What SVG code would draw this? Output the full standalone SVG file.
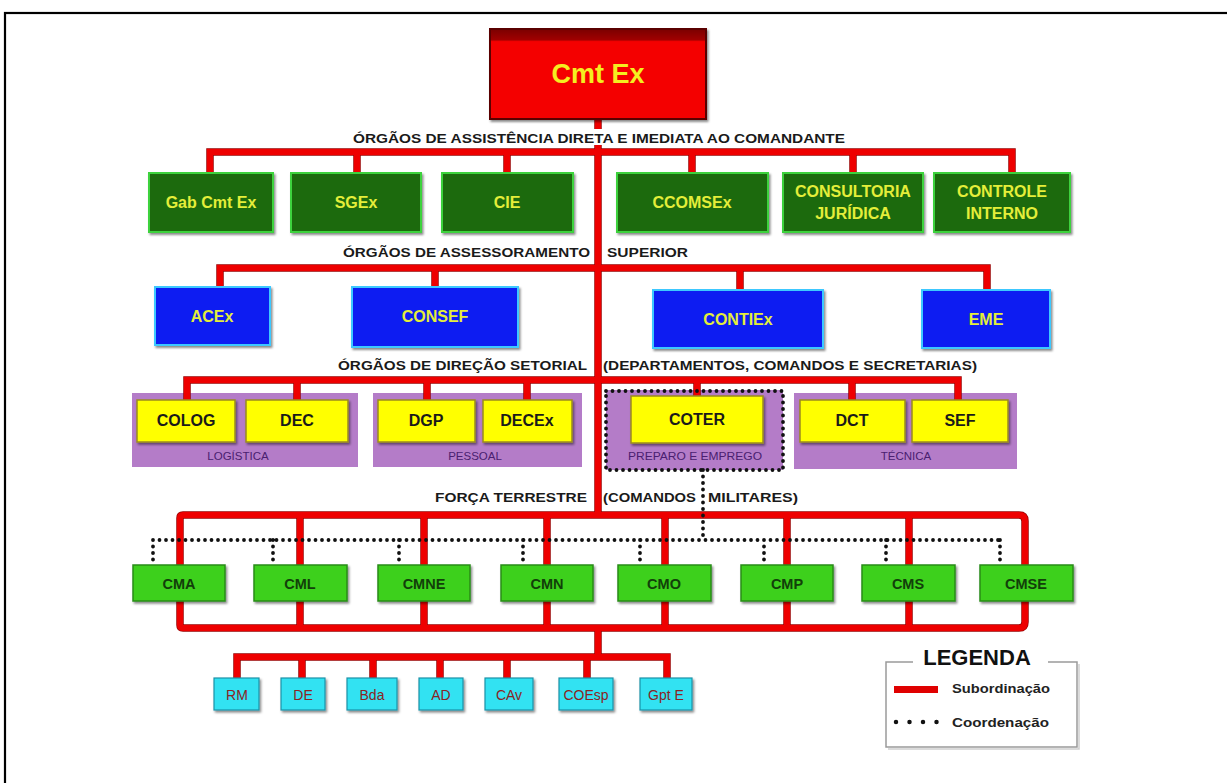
<svg xmlns="http://www.w3.org/2000/svg" width="1227" height="783" viewBox="0 0 1227 783">
<defs>
<linearGradient id="redTop" x1="0" y1="0" x2="0" y2="1">
<stop offset="0" stop-color="#7a0000"/><stop offset="0.12" stop-color="#a00000"/><stop offset="0.14" stop-color="#f40000"/><stop offset="1" stop-color="#f40000"/>
</linearGradient>
<filter id="sh" x="-10%" y="-10%" width="125%" height="140%">
<feDropShadow dx="1.5" dy="2" stdDeviation="1" flood-color="#000" flood-opacity="0.45"/>
</filter>
<style>
text{font-family:"Liberation Sans",Arial,sans-serif;}
.lbl{font-size:13px;font-weight:bold;fill:#1a1a1a;}
.red{fill:none;stroke:#ee0000;stroke-width:6;}
.reddk{fill:none;stroke:#900;stroke-width:7.5;}
.dot{fill:none;stroke:#111;stroke-width:3.8;stroke-dasharray:0 6.5;stroke-linecap:round;}
.cmt{fill:url(#redTop);stroke:#5a0000;stroke-width:2;filter:url(#sh);}
.cmtt{font-size:27px;font-weight:bold;fill:#f4ee20;text-anchor:middle;}
.g1{fill:#1d6a10;stroke:#3cd23c;stroke-width:2;filter:url(#sh);}
.g1t{font-size:16px;font-weight:bold;fill:#e4ee3a;text-anchor:middle;}
.b1{fill:#0a1ef2;stroke:#3cc8ff;stroke-width:2;filter:url(#sh);}
.b1t{font-size:16px;font-weight:bold;fill:#e4ee3a;text-anchor:middle;}
.pur{fill:#b47cc8;}
.purt{font-size:11.5px;fill:#4a2070;text-anchor:middle;}
.y1{fill:#ffff00;stroke:#9a8a20;stroke-width:1.5;filter:url(#sh);}
.y1t{font-size:16px;font-weight:bold;fill:#1a1a1a;text-anchor:middle;}
.cm{fill:#3ed01e;stroke:#2a8c18;stroke-width:1.5;filter:url(#sh);}
.cmt2{font-size:14.5px;font-weight:bold;fill:#123f0a;text-anchor:middle;}
.cy{fill:#30e2f2;stroke:#1d93a8;stroke-width:1.2;filter:url(#sh);}
.cyt{font-size:14px;fill:#8a2424;text-anchor:middle;}
</style>
</defs>
<rect x="0" y="0" width="1227" height="783" fill="#ffffff"/>
<rect x="5" y="13" width="1240" height="790" fill="none" stroke="#000" stroke-width="2.2"/>

<!-- background groupings -->
<g id="grp-logistica"><rect class="pur" x="132" y="393" width="226" height="74"/><text class="purt" x="238" y="460">LOGÍSTICA</text></g>
<g id="grp-pessoal"><rect class="pur" x="373" y="393" width="209" height="74"/><text class="purt" x="475" y="460">PESSOAL</text></g>
<g id="grp-preparo"><rect class="pur" x="606" y="390" width="177" height="80"/><text class="purt" x="695" y="460" textLength="134" lengthAdjust="spacingAndGlyphs">PREPARO E EMPREGO</text></g>
<g id="grp-tecnica"><rect class="pur" x="794" y="393" width="223" height="76"/><text class="purt" x="906" y="460">TÉCNICA</text></g>

<!-- connectors -->
<g id="connectors">
<path class="reddk" d="M598 119 V515 M210 173 V152 H1012 V173 M357 152 V173 M507 152 V173 M692 152 V173 M853 152 V173 M220 287 V268 H987 V290 M435 268 V287 M740 268 V290 M187 400 V380 H958 V400 M297 380 V400 M427 380 V400 M527 380 V400 M697 380 V396 M852 380 V400 M180 518 Q180 515 183 515 H1019 Q1025 515 1025 521 V622 Q1025 628 1019 628 H183 Q180 628 180 625 Z M300 515 V628 M424 515 V628 M547 515 V628 M665 515 V628 M787 515 V628 M909 515 V628 M598 628 V657 M237 678 V657 H667 V678 M302 657 V678 M373 657 V678 M440 657 V678 M507 657 V678 M587 657 V678"/>
<path class="red" d="M598 119 V515 M210 173 V152 H1012 V173 M357 152 V173 M507 152 V173 M692 152 V173 M853 152 V173 M220 287 V268 H987 V290 M435 268 V287 M740 268 V290 M187 400 V380 H958 V400 M297 380 V400 M427 380 V400 M527 380 V400 M697 380 V396 M852 380 V400 M180 518 Q180 515 183 515 H1019 Q1025 515 1025 521 V622 Q1025 628 1019 628 H183 Q180 628 180 625 Z M300 515 V628 M424 515 V628 M547 515 V628 M665 515 V628 M787 515 V628 M909 515 V628 M598 628 V657 M237 678 V657 H667 V678 M302 657 V678 M373 657 V678 M440 657 V678 M507 657 V678 M587 657 V678"/>
<path class="dot" d="M606 391 H783 V470 H606 Z"/>
<path class="dot" d="M703 470 V540 M153 540 H1000 M153 540 V560 M273 540 V560 M399 540 V560 M523 540 V560 M640 540 V560 M764 540 V560 M886 540 V560 M1000 540 V560"/>
</g>

<!-- section labels -->
<g id="labels">
<rect x="590" y="129" width="16" height="16" fill="#ffffff"/>
<text class="lbl" x="353" y="143" textLength="492" lengthAdjust="spacingAndGlyphs">ÓRGÃOS DE ASSISTÊNCIA DIRETA E IMEDIATA AO COMANDANTE</text>
<text class="lbl" x="343" y="257" textLength="247" lengthAdjust="spacingAndGlyphs">ÓRGÃOS DE ASSESSORAMENTO</text>
<text class="lbl" x="607" y="257" textLength="81" lengthAdjust="spacingAndGlyphs">SUPERIOR</text>
<text class="lbl" x="338" y="370" textLength="249" lengthAdjust="spacingAndGlyphs">ÓRGÃOS DE DIREÇÃO SETORIAL</text>
<text class="lbl" x="603" y="370" textLength="374" lengthAdjust="spacingAndGlyphs">(DEPARTAMENTOS, COMANDOS E SECRETARIAS)</text>
<text class="lbl" x="435" y="502" textLength="152" lengthAdjust="spacingAndGlyphs">FORÇA TERRESTRE</text>
<text class="lbl" x="603" y="502" textLength="93" lengthAdjust="spacingAndGlyphs">(COMANDOS</text>
<text class="lbl" x="708" y="502" textLength="90" lengthAdjust="spacingAndGlyphs">MILITARES)</text>
</g>

<!-- nodes -->
<g id="cmt-ex"><rect class="cmt" x="490" y="29" width="216" height="90"/><text class="cmtt" x="598" y="83">Cmt Ex</text></g>

<g id="gab-cmt-ex"><rect class="g1" x="149" y="173" width="124" height="59"/><text class="g1t" x="211" y="208">Gab Cmt Ex</text></g>
<g id="sgex"><rect class="g1" x="291" y="173" width="130" height="59"/><text class="g1t" x="356" y="208">SGEx</text></g>
<g id="cie"><rect class="g1" x="442" y="173" width="131" height="59"/><text class="g1t" x="507" y="208">CIE</text></g>
<g id="ccomsex"><rect class="g1" x="617" y="173" width="151" height="59"/><text class="g1t" x="692" y="208">CCOMSEx</text></g>
<g id="consultoria"><rect class="g1" x="783" y="173" width="140" height="59"/><text class="g1t" x="853" y="197">CONSULTORIA</text><text class="g1t" x="853" y="219">JURÍDICA</text></g>
<g id="controle"><rect class="g1" x="934" y="173" width="136" height="59"/><text class="g1t" x="1002" y="197">CONTROLE</text><text class="g1t" x="1002" y="219">INTERNO</text></g>

<g id="acex"><rect class="b1" x="155" y="287" width="115" height="58"/><text class="b1t" x="212" y="322">ACEx</text></g>
<g id="consef"><rect class="b1" x="352" y="287" width="166" height="60"/><text class="b1t" x="435" y="322">CONSEF</text></g>
<g id="contiex"><rect class="b1" x="653" y="290" width="170" height="58"/><text class="b1t" x="738" y="325">CONTIEx</text></g>
<g id="eme"><rect class="b1" x="922" y="290" width="128" height="58"/><text class="b1t" x="986" y="325">EME</text></g>

<g id="colog"><rect class="y1" x="137" y="400" width="98" height="42"/><text class="y1t" x="186" y="426">COLOG</text></g>
<g id="dec"><rect class="y1" x="246" y="400" width="102" height="42"/><text class="y1t" x="297" y="426">DEC</text></g>
<g id="dgp"><rect class="y1" x="378" y="400" width="97" height="42"/><text class="y1t" x="426" y="426">DGP</text></g>
<g id="decex"><rect class="y1" x="483" y="400" width="89" height="42"/><text class="y1t" x="527" y="426">DECEx</text></g>
<g id="coter"><rect class="y1" x="631" y="396" width="132" height="47"/><text class="y1t" x="697" y="425">COTER</text></g>
<g id="dct"><rect class="y1" x="800" y="400" width="105" height="42"/><text class="y1t" x="852" y="426">DCT</text></g>
<g id="sef"><rect class="y1" x="912" y="400" width="96" height="42"/><text class="y1t" x="960" y="426">SEF</text></g>

<g id="cma"><rect class="cm" x="133" y="565" width="92" height="36"/><text class="cmt2" x="179" y="589">CMA</text></g>
<g id="cml"><rect class="cm" x="254" y="565" width="93" height="36"/><text class="cmt2" x="300" y="589">CML</text></g>
<g id="cmne"><rect class="cm" x="378" y="565" width="92" height="36"/><text class="cmt2" x="424" y="589">CMNE</text></g>
<g id="cmn"><rect class="cm" x="501" y="565" width="92" height="36"/><text class="cmt2" x="547" y="589">CMN</text></g>
<g id="cmo"><rect class="cm" x="618" y="565" width="93" height="36"/><text class="cmt2" x="664" y="589">CMO</text></g>
<g id="cmp"><rect class="cm" x="741" y="565" width="92" height="36"/><text class="cmt2" x="787" y="589">CMP</text></g>
<g id="cms"><rect class="cm" x="862" y="565" width="93" height="36"/><text class="cmt2" x="908" y="589">CMS</text></g>
<g id="cmse"><rect class="cm" x="980" y="565" width="93" height="36"/><text class="cmt2" x="1026" y="589">CMSE</text></g>

<g id="rm"><rect class="cy" x="214" y="678" width="45" height="32"/><text class="cyt" x="237" y="700">RM</text></g>
<g id="de"><rect class="cy" x="281" y="678" width="44" height="32"/><text class="cyt" x="303" y="700">DE</text></g>
<g id="bda"><rect class="cy" x="347" y="678" width="50" height="32"/><text class="cyt" x="372" y="700">Bda</text></g>
<g id="ad"><rect class="cy" x="419" y="678" width="44" height="32"/><text class="cyt" x="441" y="700">AD</text></g>
<g id="cav"><rect class="cy" x="485" y="678" width="48" height="32"/><text class="cyt" x="509" y="700">CAv</text></g>
<g id="coesp"><rect class="cy" x="559" y="678" width="54" height="32"/><text class="cyt" x="586" y="700">COEsp</text></g>
<g id="gpte"><rect class="cy" x="640" y="678" width="52" height="32"/><text class="cyt" x="666" y="700">Gpt E</text></g>

<!-- legend -->
<g id="legenda">
<path d="M913 662 H886 V747 H1077 V662 H1048" fill="none" stroke="#9a9a9a" stroke-width="1.5"/>
<path d="M888 749 H1079 V664" fill="none" stroke="#cfcfcf" stroke-width="1.5"/>
<text x="977" y="665" font-size="22" font-weight="bold" fill="#111" text-anchor="middle">LEGENDA</text>
<rect x="894" y="686" width="44" height="7" fill="#e00000"/>
<text x="952" y="693" font-size="13.5" font-weight="bold" fill="#222" textLength="98" lengthAdjust="spacingAndGlyphs">Subordinação</text>
<path d="M896 722 H938" fill="none" stroke="#111" stroke-width="4.5" stroke-dasharray="0 13.5" stroke-linecap="round"/>
<text x="952" y="727" font-size="13.5" font-weight="bold" fill="#222" textLength="97" lengthAdjust="spacingAndGlyphs">Coordenação</text>
</g>
</svg>
